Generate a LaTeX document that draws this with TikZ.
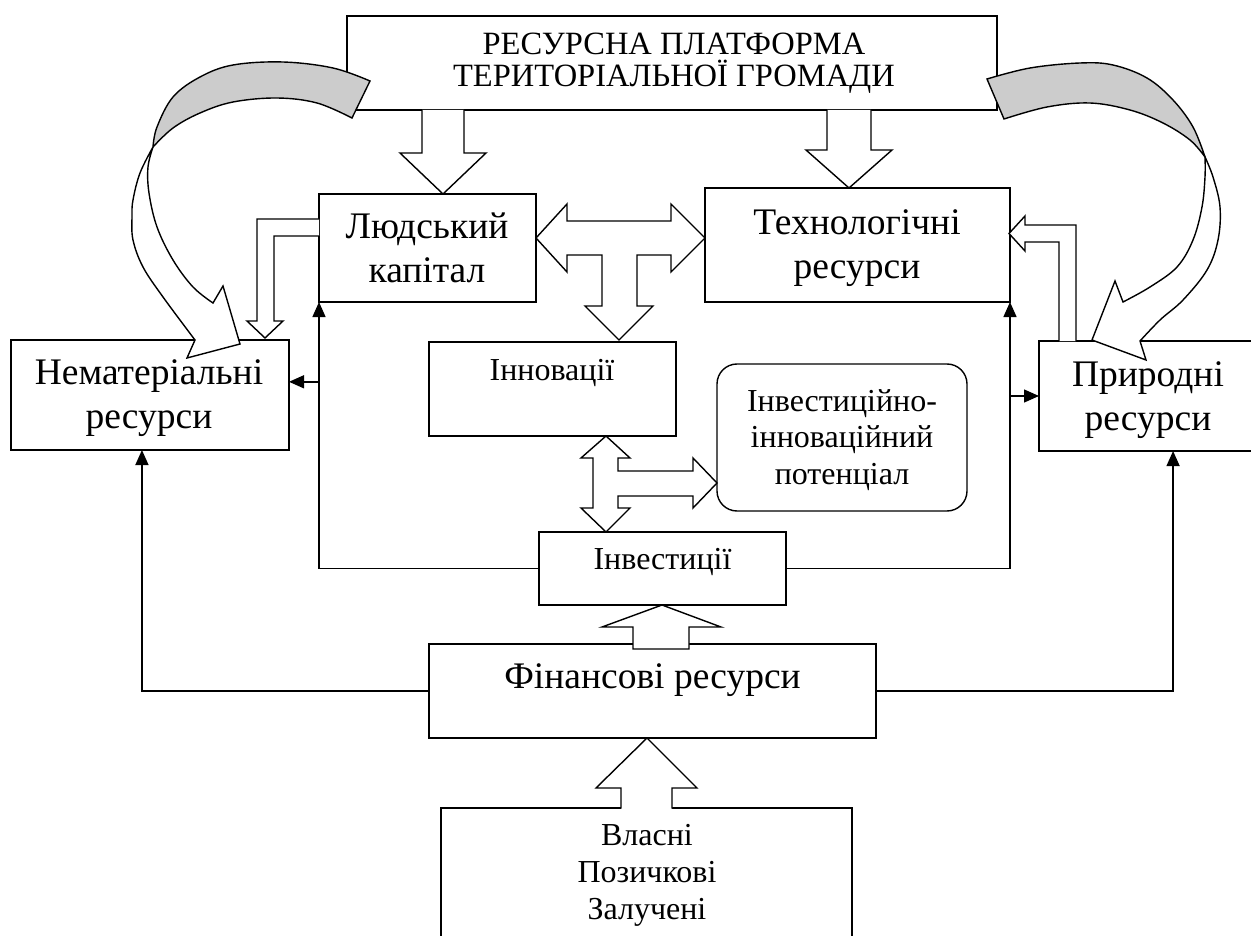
\documentclass[tikz,border=0pt]{standalone}
\usepackage{fontspec}
\setmainfont{Liberation Serif}
\usetikzlibrary{arrows.meta,calc}
\definecolor{bandgrey}{RGB}{204,204,204}
\begin{document}
\begin{tikzpicture}[x=1pt,y=-1pt,
  box/.style={draw,line width=1.4pt,fill=white,inner sep=0pt,outer sep=0pt},
  txt/.style={inner sep=0pt,outer sep=0pt,align=center},
  conn/.style={line width=1.4pt,-{Triangle[length=15pt,width=13pt]}},
  blockarrow/.style={draw,line width=1.4pt,fill=white,line join=miter},
  band/.style={draw,line width=1.4pt,line join=miter},
  bigtext/.style={txt,font=\fontsize{37.5}{43.5}\selectfont},
  smalltext/.style={txt,font=\fontsize{32}{37}\selectfont},
]
\useasboundingbox (0,0) rectangle (1251,936);
\clip (0,0) rectangle (1251,936);

% ---------- boxes ----------
\node[box,minimum width=650pt,minimum height=94pt] (top) at (672,63) {};
\node[box,minimum width=217pt,minimum height=108pt] (lk) at (427.5,248) {};
\node[box,minimum width=305pt,minimum height=114pt] (tech) at (857.5,245) {};
\node[box,minimum width=278pt,minimum height=110pt] (nem) at (150,395) {};
\node[box,minimum width=218pt,minimum height=110pt] (pryr) at (1148,396) {};
\node[box,minimum width=247pt,minimum height=94pt] (innov) at (552.5,389) {};
\node[box,rounded corners=20pt,minimum width=250pt,minimum height=147pt] (invpot) at (842,437.5) {};
\node[box,minimum width=247pt,minimum height=73pt] (invest) at (662.5,568.5) {};
\node[box,minimum width=447pt,minimum height=94pt] (fin) at (652.5,691) {};
\node[box,minimum width=411pt,minimum height=152pt] (vlasni) at (646.5,884) {};

% ---------- texts ----------
\node[txt,font=\fontsize{32.5}{32}\selectfont] (topT) at (674,63) {РЕСУРСНА ПЛАТФОРМА\\ТЕРИТОРІАЛЬНОЇ ГРОМАДИ};
\node[bigtext] (lkT) at (427,248) {Людський\\капітал};
\node[bigtext] (techT) at (857,248) {Технологічні\\ресурси};
\node[bigtext] (nemT) at (149,398) {Нематеріальні\\ресурси};
\node[bigtext] (pryrT) at (1148,400) {Природні\\ресурси};
\node[smalltext] (innovT) at (552,373) {Інновації};
\node[smalltext,font=\fontsize{32}{36.5}\selectfont] (invpotT) at (842,440) {Інвестиційно-\\інноваційний\\потенціал};
\node[smalltext] (investT) at (662.5,562) {Інвестиції};
\node[bigtext] (finT) at (652.5,680) {Фінансові ресурси};
\node[smalltext] (vlasniT) at (647,875) {Власні\\Позичкові\\Залучені};

% ---------- thin connectors ----------
\coordinate (nemR) at ($(nem.north east)!0.38!(nem.south east)$);
\coordinate (nemB) at ($(nem.south west)!0.471!(nem.south east)$);
\coordinate (pryrB) at ($(pryr.south west)!0.615!(pryr.south east)$);
\draw[conn] (invest.west) -| (lk.south west);
\draw[conn] (lk.south west |- nemR) -- (nemR);
\draw[conn] (invest.east) -| (tech.south east);
\draw[conn] (tech.south east |- pryr.west) -- (pryr.west);
\draw[conn] (fin.west) -| (nemB);
\draw[conn] (fin.east) -| (pryrB);

% ---------- block arrows ----------
% top box -> Людський капітал
\filldraw[blockarrow] (422,110) -- (422,153) -- (400,153) -- (443,194) -- (486,153) -- (464,153) -- (464,110);
% top box -> Технологічні ресурси
\filldraw[blockarrow] (827,110) -- (827,150) -- (806,150) -- (849,188) -- (892,150) -- (871,150) -- (871,110);
% three-way arrow Людський <-> Технологічні, down to Інновації
\filldraw[blockarrow] (536,238) -- (567,204) -- (567,221) -- (671,221) -- (671,204) -- (705,238)
  -- (671,272) -- (671,255) -- (637,255) -- (637,306) -- (653,306) -- (619,340) -- (585,306)
  -- (602,306) -- (602,255) -- (567,255) -- (567,272) -- cycle;
% three-way arrow Інновації <-> Інвестиції, right to potential
\filldraw[blockarrow] (606,436) -- (630,458) -- (618,458) -- (618,471) -- (693,471) -- (693,458)
  -- (717,483) -- (693,508) -- (693,496) -- (618,496) -- (618,508) -- (630,508) -- (606,532)
  -- (581,508) -- (593,508) -- (593,458) -- (581,458) -- cycle;
% Людський -> Нематеріальні (bent)
\filldraw[blockarrow] (319,219) -- (257,219) -- (257,321) -- (247,321) -- (265,338) -- (283,321)
  -- (274,321) -- (274,236) -- (319,236);
% Природні -> Технологічні (bent)
\filldraw[blockarrow] (1059,341) -- (1059,242) -- (1025,242) -- (1025,251) -- (1009,233.5)
  -- (1025,216) -- (1025,225) -- (1076,225) -- (1076,341);
% Фінансові -> Інвестиції
\filldraw[blockarrow] (633,649) -- (633,627) -- (602,627) -- (662,605) -- (721,627) -- (689,627) -- (689,649) -- cycle;
% Власні -> Фінансові
\fill[white] (621,811) -- (621,788) -- (672,788) -- (672,811) -- cycle;
\filldraw[blockarrow] (621,808.7) -- (621,788) -- (596,788) -- (647,738) -- (697,788) -- (672,788) -- (672,808.7);

% ---------- curved arrows ----------
\filldraw[band,fill=bandgrey] plot[smooth,tension=0.6] coordinates {(370,81) (333,68) (283,62) (233,65) (200,77) (173,97) (157,127) (153,147)}
  -- plot[smooth,tension=0.6] coordinates {(153,147) (173,128) (200,113) (233,102) (277,98) (317,103) (352,118)} -- cycle;
\filldraw[band,fill=white] plot[smooth,tension=0.6] coordinates {(153,147) (140,173) (133,200) (132,217) (133,240) (143,267) (163,297) (195,340)}
  -- (187,358) -- (240,344) -- (223,286) -- (213,303)
  -- plot[smooth,tension=0.6] coordinates {(213,303) (193,287) (173,260) (157,227) (149,193) (148,167) (153,147)} -- cycle;

\filldraw[band,fill=bandgrey] plot[smooth,tension=0.6] coordinates {(987,79) (1030,68) (1080,63) (1113,65) (1147,78) (1173,100) (1193,127) (1205,157)}
  -- plot[smooth,tension=0.6] coordinates {(1205,157) (1190,140) (1163,123) (1130,110) (1090,103) (1047,107) (1004,119)} -- cycle;
\filldraw[band,fill=white] plot[smooth,tension=0.6] coordinates {(1205,157) (1213,177) (1220,207) (1218,240) (1207,270) (1183,300) (1160,320) (1140,341)}
  -- (1146,360) -- (1092,340) -- (1115,281) -- (1123,302)
  -- plot[smooth,tension=0.6] coordinates {(1123,302) (1150,287) (1177,267) (1193,240) (1202,207) (1205,177) (1205,157)} -- cycle;
\end{tikzpicture}
\end{document}
